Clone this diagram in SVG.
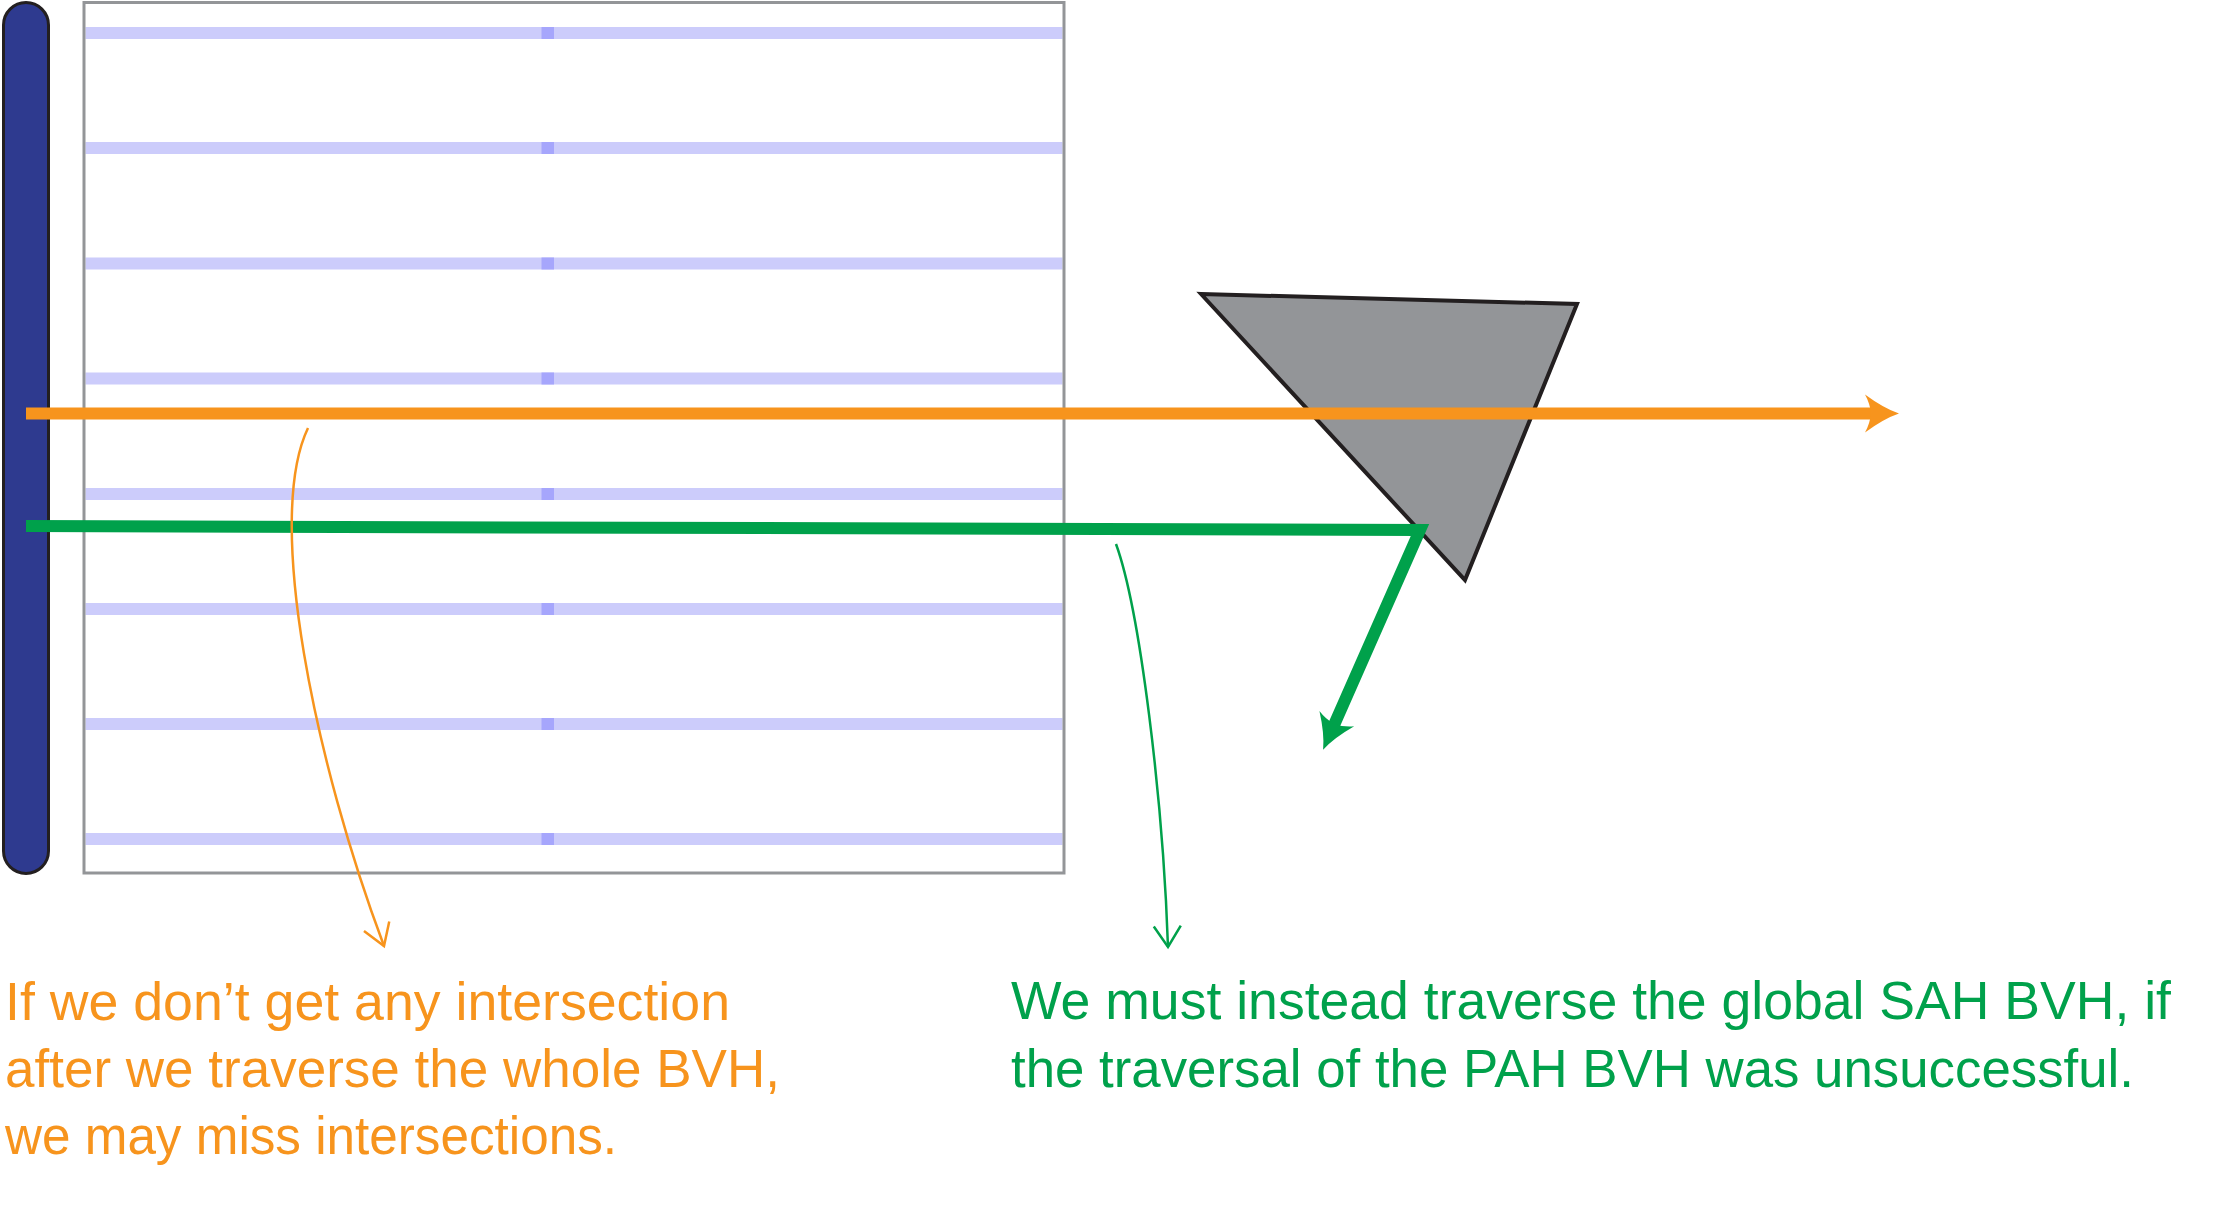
<svg xmlns="http://www.w3.org/2000/svg" width="2239" height="1216" viewBox="0 0 2239 1216">
  <defs>
    <style>
      .lane{stroke:#ccccfb;stroke-width:12;fill:none}
      .mark{fill:#a6a6fc}
      .txt{font-family:"Liberation Sans",Arial,sans-serif;font-size:53px}
      .orange{fill:#f7941d}
      .green{fill:#00a14b}
      .ray{fill:none;stroke-width:12;stroke-linejoin:miter}
      .callout{fill:none;stroke-width:2.5}
    </style>
    <marker id="headO" markerUnits="userSpaceOnUse" viewBox="-40 -25 45 50" markerWidth="45" markerHeight="50" refX="-26" refY="0" orient="auto">
      <path d="M0,0 Q-15,-5 -34,-19 Q-29,-10 -28,0 Q-29,10 -34,19 Q-15,5 0,0 Z" fill="#f7941d"/>
    </marker>
    <marker id="headG" markerUnits="userSpaceOnUse" viewBox="-40 -25 45 50" markerWidth="45" markerHeight="50" refX="-26" refY="0" orient="auto">
      <path d="M0,0 Q-15,-5 -34,-19 Q-29,-10 -28,0 Q-29,10 -34,19 Q-15,5 0,0 Z" fill="#00a14b"/>
    </marker>
    <marker id="openO" markerUnits="userSpaceOnUse" viewBox="-25 -16 28 32" markerWidth="28" markerHeight="32" refX="0" refY="0" orient="auto">
      <path d="M-21,-13.5 L0,0 L-21,13.5" fill="none" stroke="#f7941d" stroke-width="2.5"/>
    </marker>
    <marker id="openG" markerUnits="userSpaceOnUse" viewBox="-25 -16 28 32" markerWidth="28" markerHeight="32" refX="0" refY="0" orient="auto">
      <path d="M-21,-13.5 L0,0 L-21,13.5" fill="none" stroke="#00a14b" stroke-width="2.5"/>
    </marker>
  </defs>
  <rect width="2239" height="1216" fill="#ffffff"/>

  <g id="bvh-box">
    <g id="lanes">
      <line class="lane" x1="85.5" y1="33" x2="1062.5" y2="33"/>
      <line class="lane" x1="85.5" y1="148" x2="1062.5" y2="148"/>
      <line class="lane" x1="85.5" y1="263.5" x2="1062.5" y2="263.5"/>
      <line class="lane" x1="85.5" y1="378.5" x2="1062.5" y2="378.5"/>
      <line class="lane" x1="85.5" y1="494" x2="1062.5" y2="494"/>
      <line class="lane" x1="85.5" y1="609" x2="1062.5" y2="609"/>
      <line class="lane" x1="85.5" y1="724" x2="1062.5" y2="724"/>
      <line class="lane" x1="85.5" y1="839" x2="1062.5" y2="839"/>
      <rect class="mark" x="541.5" y="27" width="12.5" height="12"/>
      <rect class="mark" x="541.5" y="142" width="12.5" height="12"/>
      <rect class="mark" x="541.5" y="257.5" width="12.5" height="12"/>
      <rect class="mark" x="541.5" y="372.5" width="12.5" height="12"/>
      <rect class="mark" x="541.5" y="488" width="12.5" height="12"/>
      <rect class="mark" x="541.5" y="603" width="12.5" height="12"/>
      <rect class="mark" x="541.5" y="718" width="12.5" height="12"/>
      <rect class="mark" x="541.5" y="833" width="12.5" height="12"/>
    </g>
    <rect x="84" y="2.5" width="980" height="870.5" fill="none" stroke="#939598" stroke-width="3"/>
  </g>

  <g id="emitter">
    <rect x="3.5" y="2.5" width="45" height="871" rx="22.5" ry="22.5" fill="#2e3a8f" stroke="#231f20" stroke-width="3"/>
  </g>

  <g id="triangle">
    <polygon points="1201,294 1577,304 1465,580" fill="#939598" stroke="#231f20" stroke-width="4"/>
  </g>

  <g id="connectors">
    <line class="ray" x1="26" y1="413.5" x2="1873" y2="413.5" stroke="#f7941d" marker-end="url(#headO)"/>
    <path class="ray" d="M26,526 L1420,530 L1333.6,726" stroke="#00a14b" marker-end="url(#headG)"/>
    <path class="callout" d="M308,428 C264,520 316,765 384,946" stroke="#f7941d" marker-end="url(#openO)"/>
    <path class="callout" d="M1116,544 C1140,610 1163,800 1168,947" stroke="#00a14b" marker-end="url(#openG)"/>
  </g>

  <g id="label-orange" class="txt orange">
    <text x="5" y="1020" textLength="725" lengthAdjust="spacingAndGlyphs">If we don’t get any intersection</text>
    <text x="5" y="1087" textLength="775" lengthAdjust="spacingAndGlyphs">after we traverse the whole BVH,</text>
    <text x="5" y="1154" textLength="612" lengthAdjust="spacingAndGlyphs">we may miss intersections.</text>
  </g>

  <g id="label-green" class="txt green">
    <text x="1011" y="1019" textLength="1160" lengthAdjust="spacingAndGlyphs">We must instead traverse the global SAH BVH, if</text>
    <text x="1011" y="1087" textLength="1123" lengthAdjust="spacingAndGlyphs">the traversal of the PAH BVH was unsuccessful.</text>
  </g>
</svg>
